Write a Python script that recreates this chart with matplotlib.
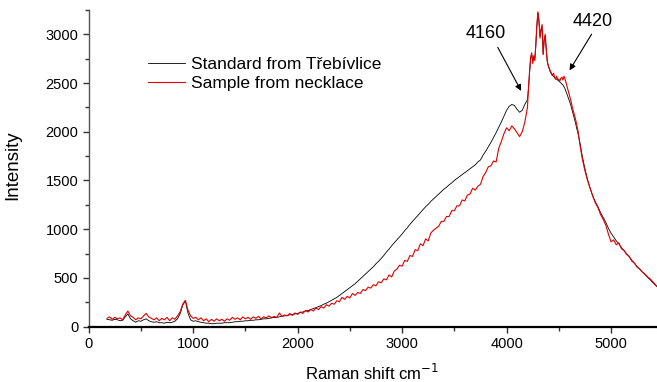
import matplotlib
matplotlib.use("Agg")
import matplotlib.pyplot as plt
from matplotlib.ticker import MultipleLocator
import numpy as np

plt.rcParams['font.family'] = ['Liberation Sans', 'DejaVu Sans']

# Raman shift grid: coarse, finer around the main peak, coarse again
shift = np.concatenate([np.arange(175, 4200, 25),
                        np.arange(4200, 4700, 10),
                        np.arange(4700, 5451, 25)])

# Standard from Třebívlice
standard = [
    75, 70, 65, 75, 70, 60, 65, 100, 130, 80, 60, 45, 60, 55, 70, 80,
    60, 50, 45, 50, 40, 40, 35, 45, 40, 45, 55, 80, 130, 220, 265, 140,
    70, 55, 60, 50, 45, 40, 35, 35, 30, 30, 35, 35, 35, 40, 40, 40,
    45, 50, 50, 55, 55, 60, 60, 65, 65, 70, 70, 75, 80, 80, 85, 90,
    95, 95, 100, 105, 110, 115, 120, 125, 130, 135, 145, 150, 160, 165, 175, 185,
    195, 205, 215, 230, 240, 255, 270, 285, 300, 320, 340, 360, 380, 400, 420, 440,
    465, 490, 515, 540, 565, 590, 615, 645, 670, 700, 730, 765, 795, 830, 860, 890,
    920, 950, 985, 1015, 1050, 1080, 1110, 1140, 1170, 1200, 1230, 1255, 1285, 1310, 1335, 1360,
    1385, 1410, 1430, 1455, 1475, 1500, 1520, 1540, 1560, 1580, 1600, 1620, 1640, 1660, 1690, 1710,
    1760, 1800, 1845, 1890, 1940, 1990, 2045, 2100, 2160, 2220, 2260, 2280, 2270, 2230, 2200,
    2220, 2280,
    2330, 2450, 2600, 2750, 2800, 2720, 2760, 2740, 2880, 3080, 3220, 3130, 2980, 3040, 3080, 2800,
    2940, 2980, 2840, 2720, 2670, 2640, 2610, 2590, 2575, 2570, 2555, 2540, 2540, 2530, 2520, 2510,
    2500, 2490, 2480, 2460, 2440, 2410, 2380, 2350, 2320, 2290, 2250, 2210, 2170, 2130, 2090, 2040,
    2000, 1950,
    1900, 1750, 1620, 1510, 1420, 1340, 1280, 1230, 1170, 1120, 1070, 1010, 960, 920, 880, 850,
    810, 780, 745, 715, 680, 650, 615, 590, 560, 535, 505, 480, 450, 425, 400,
]

# Sample from necklace
necklace = [
    85, 100, 75, 95, 80, 90, 70, 120, 160, 110, 95, 70, 90, 80, 110, 135,
    100, 85, 70, 90, 60, 85, 70, 95, 60, 90, 75, 110, 150, 230, 270, 170,
    110, 85, 95, 70, 90, 60, 80, 50, 75, 55, 80, 60, 75, 55, 80, 65,
    95, 75, 90, 70, 100, 80, 95, 75, 100, 85, 105, 80, 100, 90, 110, 90,
    105, 95, 140, 105, 120, 110, 135, 115, 140, 125, 150, 135, 165, 150, 175, 160,
    190, 175, 205, 190, 225, 210, 240, 230, 265, 255, 300, 280, 310, 295, 340, 320,
    350, 340, 380, 370, 405, 395, 430, 420, 460, 450, 490, 480, 530, 510, 570, 590,
    630, 620, 680, 670, 730, 720, 790, 780, 850, 830, 900, 880, 960, 990, 1010, 1030,
    1080, 1080, 1130, 1130, 1190, 1190, 1240, 1240, 1300, 1290, 1350, 1360, 1420, 1400, 1440, 1460,
    1540, 1580, 1640, 1650, 1700, 1690, 1830, 1900, 1980, 2040, 2010, 2060, 2030, 1990, 1950, 2000,
    2100,
    2250, 2450, 2620, 2760, 2810, 2700, 2780, 2730, 2900, 3100, 3230, 3150, 2960, 3050, 3100, 2790,
    2950, 3000, 2850, 2720, 2680, 2650, 2620, 2600, 2580, 2600, 2560, 2540, 2570, 2530, 2540, 2520,
    2550, 2560, 2530, 2570, 2540, 2500, 2460, 2420, 2380, 2340, 2300, 2250, 2210, 2170, 2130, 2080,
    2030, 1970,
    1880, 1720, 1600, 1500, 1420, 1340, 1270, 1220, 1150, 1100, 1040, 950, 870, 890, 840, 860,
    800, 780, 740, 720, 670, 650, 610, 590, 560, 540, 510, 490, 460, 430, 400,
]

fig = plt.figure(figsize=(6.57, 3.82), dpi=100)
ax = fig.add_axes([0.135, 0.145, 0.865, 0.829])

ax.plot(shift, standard, color='black', lw=0.6, label='Standard from Třebívlice')
ax.plot(shift, necklace, color='#e00000', lw=0.8, label='Sample from necklace')

ax.set_xlim(0, 5440)
ax.set_ylim(0, 3250)
ax.xaxis.set_major_locator(MultipleLocator(1000))
ax.xaxis.set_minor_locator(MultipleLocator(500))
ax.yaxis.set_major_locator(MultipleLocator(500))
ax.yaxis.set_minor_locator(MultipleLocator(250))

ax.spines['top'].set_visible(False)
ax.spines['right'].set_visible(False)
ax.spines['left'].set_color('#555555')
ax.spines['left'].set_linewidth(1.0)
ax.spines['bottom'].set_linewidth(1.6)
ax.tick_params(which='major', direction='out', length=4, width=1, labelsize=10.5, color='#333333')
ax.tick_params(which='minor', direction='out', length=3, width=1, color='#333333')

ax.set_xlabel('Raman shift cm$^{-1}$', fontsize=12)
ax.set_ylabel('Intensity', fontsize=13.5)
ax.xaxis.set_label_coords(0.498, -0.115)
ax.yaxis.set_label_coords(-0.118, 0.51)

leg = ax.legend(loc='upper left', bbox_to_anchor=(0.104, 0.853), frameon=False,
                fontsize=12.5, handlelength=2.13, handletextpad=0.35, labelspacing=0.25,
                borderpad=0, borderaxespad=0)

ax.text(3799, 3004, '4160', fontsize=13, ha='center', va='center')
ax.annotate('', xy=(4152, 2394), xytext=(3903, 2891),
            arrowprops=dict(arrowstyle='-|>', color='black', lw=0.8, mutation_scale=9))
ax.text(4828, 3128, '4420', fontsize=13, ha='center', va='center')
ax.annotate('', xy=(4589, 2605), xytext=(4828, 3026),
            arrowprops=dict(arrowstyle='-|>', color='black', lw=0.8, mutation_scale=9))

fig.savefig('out.png', dpi=100)
